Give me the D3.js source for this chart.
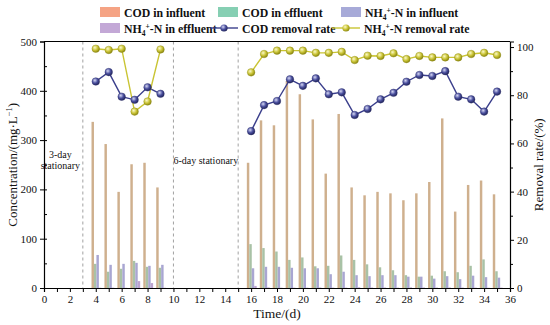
<!DOCTYPE html>
<html>
<head>
<meta charset="utf-8">
<script src="https://cdn.jsdelivr.net/npm/d3@7"></script>
<style>
  body { margin: 0; background: #fff; }
  svg text { font-family: "Liberation Serif", "Times New Roman", serif; }
</style>
</head>
<body>
<div id="chart"></div>
<script>
// days of each operating phase
const days = [4, 5, 6, 7, 8, 9, 16, 17, 18, 19, 20, 21, 22, 23, 24, 25, 26, 27, 28, 29, 30, 31, 32, 33, 34, 35]
const codIn = [337, 292, 195, 251, 254, 204, 254, 340, 330, 420, 393, 342, 232, 353, 204, 188, 195, 192, 178, 192, 215, 344, 155, 209, 218, 190]
const codOut = [49, 33, 39, 55, 43, 41, 89, 81, 74, 57, 62, 44, 45, 66, 57, 48, 42, 36, 26, 23, 25, 34, 32, 45, 58, 34]
const nhIn = [67, 47, 49, 51, 45, 47, 40, 43, 43, 41, 40, 40, 28, 33, 26, 24, 26, 26, 23, 23, 19, 24, 18, 25, 22, 21]
const nhOut = [0.5, 0.6, 0.4, 14, 10, 0.5, 4.2, 1.2, 0.6, 0.6, 0.6, 1.0, 0.7, 0.7, 1.4, 0.9, 0.9, 0.7, 1.2, 0.9, 0.8, 1.0, 0.8, 0.7, 0.5, 0.7]
const codRate = [85.7, 89.6, 79.4, 78.1, 83.3, 80.6, 65.1, 75.9, 77.6, 86.6, 83.9, 87.0, 80.4, 81.2, 71.8, 74.3, 78.3, 81.0, 85.6, 88.4, 88.0, 90.0, 79.4, 78.3, 73.2, 81.5]
const nhRate = [99.3, 98.8, 99.3, 73.2, 77.4, 99.0, 89.5, 97.1, 98.5, 98.5, 98.5, 97.6, 97.6, 98.0, 94.6, 96.4, 96.3, 97.4, 95.0, 96.3, 95.7, 95.7, 95.7, 97.1, 97.6, 96.7]
const phases = [[0, 6], [6, 26]]
const stationaryDays = [3, 10, 15]
const leftTicks = [0, 100, 200, 300, 400, 500]
const rightTicks = [0, 20, 40, 60, 80, 100]

const W = 550, H = 325
const m = { top: 41.5, right: 40, bottom: 37, left: 44 }
const svg = d3.select('#chart').append('svg').attr('width', W).attr('height', H)

const x = d3.scaleLinear().domain([0, 36]).range([m.left, W - m.right])
const y = d3.scaleLinear().domain([0, 500]).range([H - m.bottom, m.top])
const y2 = d3.scaleLinear().domain([0, 102.3]).range([H - m.bottom, m.top])

const keys = ['codIn', 'codOut', 'nhIn', 'nhOut']
const inner = d3.scaleBand().domain(keys).range([-0.33, 0.43]).padding(0)
const barColor = { codIn: '#cfb08e', codOut: '#a9c2a6', nhIn: '#a9a6d2', nhOut: '#bba3cf' }
const legColor = { codIn: '#f5a384', codOut: '#86cfb3', nhIn: '#a7aad8', nhOut: '#c3a8d6' }

const rows = days.map((d, i) => ({ day: d, codIn: codIn[i], codOut: codOut[i], nhIn: nhIn[i], nhOut: nhOut[i], codRate: codRate[i], nhRate: nhRate[i] }))

// gradients for sphere-like markers
const defs = svg.append('defs')
function sphere (id, c0, c1, c2) {
  const g = defs.append('radialGradient').attr('id', id).attr('cx', '38%').attr('cy', '35%').attr('r', '65%')
  g.append('stop').attr('offset', '0%').attr('stop-color', c0)
  g.append('stop').attr('offset', '55%').attr('stop-color', c1)
  g.append('stop').attr('offset', '100%').attr('stop-color', c2)
}
sphere('gBlue', '#d6d8f4', '#4a4f9e', '#23265c')
sphere('gYel', '#fbf9c8', '#cbc538', '#8d8912')

// dashed separators
svg.append('g').selectAll('line').data(stationaryDays).enter().append('line')
  .attr('x1', d => x(d)).attr('x2', d => x(d))
  .attr('y1', m.top).attr('y2', H - m.bottom)
  .attr('stroke', '#8a8a8a').attr('stroke-width', 0.8).attr('stroke-dasharray', '3,3')

// bars
const bw = x(inner.bandwidth()) - x(0)
const grp = svg.append('g').selectAll('g').data(rows).enter().append('g')
keys.forEach(k => {
  grp.append('rect')
    .attr('x', d => x(d.day + inner(k)))
    .attr('width', bw)
    .attr('y', d => y(d[k]))
    .attr('height', d => y(0) - y(d[k]))
    .attr('fill', barColor[k])
})

// rate lines, one segment per phase
const line = key => d3.line().x(d => x(d.day)).y(d => y2(d[key]))
phases.forEach(([a, b]) => {
  const part = rows.slice(a, b)
  svg.append('path').datum(part).attr('d', line('codRate')).attr('fill', 'none').attr('stroke', '#3b3f8c').attr('stroke-width', 1.4)
  svg.append('path').datum(part).attr('d', line('nhRate')).attr('fill', 'none').attr('stroke', '#c9c433').attr('stroke-width', 1.4)
})
svg.append('g').selectAll('circle').data(rows).enter().append('circle')
  .attr('cx', d => x(d.day)).attr('cy', d => y2(d.codRate)).attr('r', 3.8)
  .attr('fill', 'url(#gBlue)').attr('stroke', '#2a2d6a').attr('stroke-width', 0.4)
svg.append('g').selectAll('circle').data(rows).enter().append('circle')
  .attr('cx', d => x(d.day)).attr('cy', d => y2(d.nhRate)).attr('r', 3.8)
  .attr('fill', 'url(#gYel)').attr('stroke', '#8d8912').attr('stroke-width', 0.4)

// annotations
const ann = svg.append('g').attr('font-size', 10).attr('text-anchor', 'middle').attr('fill', '#111')
ann.append('text').attr('x', (x(0) + x(3)) / 2 - 3).attr('y', 158).text('3-day')
ann.append('text').attr('x', (x(0) + x(3)) / 2 - 3).attr('y', 169).text('stationary')
ann.append('text').attr('x', (x(10) + x(15)) / 2).attr('y', 164).text('6-day stationary')

// axes
const tickFont = g => g.selectAll('text').attr('font-size', 11).attr('fill', '#111').attr('font-family', '"Liberation Serif", serif')
const xAxis = svg.append('g').attr('transform', `translate(0,${H - m.bottom})`)
  .call(d3.axisBottom(x).tickValues(d3.range(0, 37, 1)).tickSize(4).tickPadding(3)
    .tickFormat(d => d % 2 === 0 ? d : ''))
xAxis.call(tickFont)
xAxis.select('.domain').attr('stroke-width', 1.2)

const yAxis = svg.append('g').attr('transform', `translate(${m.left},0)`)
  .call(d3.axisLeft(y).tickValues(leftTicks).tickSize(4).tickPadding(3))
yAxis.call(tickFont)
yAxis.select('.domain').attr('stroke-width', 1.2)
svg.append('g').attr('transform', `translate(${m.left},0)`)
  .call(d3.axisRight(y).tickValues(d3.range(50, 500, 50)).tickSize(3).tickFormat(''))
  .select('.domain').remove()

const yAxis2 = svg.append('g').attr('transform', `translate(${W - m.right},0)`)
  .call(d3.axisRight(y2).tickValues(rightTicks).tickSize(4).tickPadding(3))
yAxis2.call(tickFont)
yAxis2.select('.domain').attr('stroke-width', 1.2)
svg.append('g').attr('transform', `translate(${W - m.right},0)`)
  .call(d3.axisRight(y2).tickValues(d3.range(10, 100, 20)).tickSize(3).tickFormat(''))
  .select('.domain').remove()

svg.append('line').attr('x1', m.left).attr('x2', W - m.right).attr('y1', m.top).attr('y2', m.top)
  .attr('stroke', '#000').attr('stroke-width', 1.2)

// axis titles
svg.append('text').attr('transform', `translate(17,${(m.top + H - m.bottom) / 2}) rotate(-90)`)
  .attr('text-anchor', 'middle').attr('font-size', 13).attr('fill', '#111')
  .text('Concentration/(mg·L')
  .append('tspan').attr('font-size', 8.5).attr('dy', -5).text('−1')
  .select(function () { return this.parentNode })
  .append('tspan').attr('dy', 5).text(')')
svg.append('text').attr('transform', `translate(543,${(m.top + H - m.bottom) / 2}) rotate(-90)`)
  .attr('text-anchor', 'middle').attr('font-size', 13).attr('fill', '#111')
  .text('Removal rate/(%)')
svg.append('text').attr('x', x(18)).attr('y', 318).attr('text-anchor', 'middle')
  .attr('font-size', 13.5).attr('fill', '#111').text('Time/(d)')

// legend
const leg = svg.append('g').attr('font-size', 11.8).attr('font-weight', 'bold').attr('fill', '#111')
function nhLabel (sel, rest) {
  sel.text('NH')
  sel.append('tspan').attr('font-size', 7.5).attr('dy', 3).text('4')
  sel.append('tspan').attr('font-size', 7.5).attr('dy', -7).text('+')
  sel.append('tspan').attr('dy', 4).text('-N ' + rest)
}
const legItems = [
  { key: 'codIn', px: 100, py: 7, label: 'COD in influent' },
  { key: 'codOut', px: 218, py: 7, label: 'COD in effluent' },
  { key: 'nhIn', px: 341, py: 7, nh: 'in influent' },
  { key: 'nhOut', px: 100, py: 23, nh: 'in effluent' }
]
legItems.forEach(it => {
  leg.append('rect').attr('x', it.px).attr('y', it.py).attr('width', 20).attr('height', 10).attr('fill', legColor[it.key])
  const t = leg.append('text').attr('x', it.px + 24).attr('y', it.py + 9.5)
  if (it.nh) nhLabel(t, it.nh)
  else t.text(it.label)
})
const legLines = [
  { px: 210, stroke: '#3b3f8c', fill: 'url(#gBlue)', label: 'COD removal rate' },
  { px: 332, stroke: '#c9c433', fill: 'url(#gYel)', nh: 'removal rate' }
]
legLines.forEach(it => {
  leg.append('line').attr('x1', it.px).attr('x2', it.px + 28).attr('y1', 28).attr('y2', 28)
    .attr('stroke', it.stroke).attr('stroke-width', 1.4)
  leg.append('circle').attr('cx', it.px + 14).attr('cy', 28).attr('r', 3.6).attr('fill', it.fill)
  const t = leg.append('text').attr('x', it.px + 32).attr('y', 32.5)
  if (it.nh) nhLabel(t, it.nh)
  else t.text(it.label)
})
</script>
</body>
</html>
